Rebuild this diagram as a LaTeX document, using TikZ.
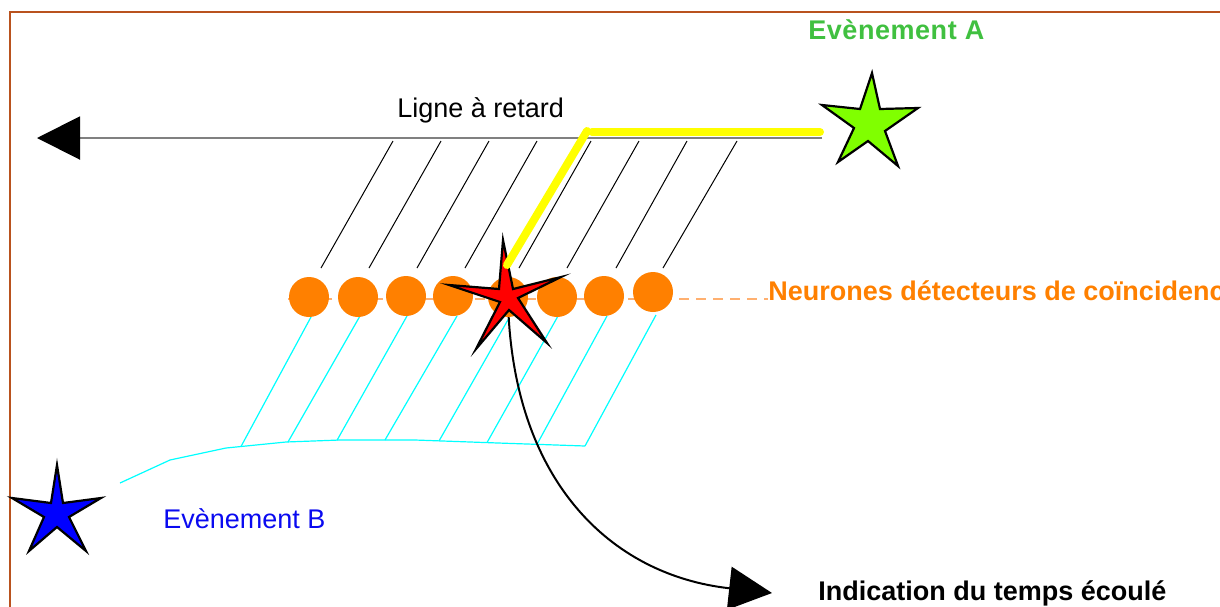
\documentclass[tikz,border=0pt]{standalone}
\usepackage{fontspec}
\setmainfont{Liberation Sans}
\usetikzlibrary{arrows.meta}
\definecolor{framebrown}{RGB}{185,82,30}
\definecolor{delaygray}{RGB}{128,128,128}
\definecolor{neuronorange}{RGB}{255,128,0}
\definecolor{dashorange}{RGB}{255,176,112}
\definecolor{textgreen}{RGB}{64,192,64}
\definecolor{stargreen}{RGB}{128,255,0}
\definecolor{textblue}{RGB}{10,10,240}
\definecolor{linecyan}{RGB}{0,255,255}
\definecolor{pathyellow}{RGB}{255,255,0}
\definecolor{starred}{RGB}{255,0,0}
\definecolor{starblue}{RGB}{0,0,255}
\begin{document}
\begin{tikzpicture}[x=0.5pt,y=-0.5pt,
  tap/.style={black,line width=0.5pt},
  cyanline/.style={linecyan,line width=0.6pt},
  neuron/.style={circle,fill=neuronorange,inner sep=0pt,minimum size=20pt},
  starshape/.style={draw=black,line width=1.1pt,line join=miter},
  lbl/.style={inner sep=0pt,anchor=base west,font=\fontsize{13.5}{16}\selectfont},
  lblb/.style={inner sep=0pt,anchor=base west,font=\fontsize{13.5}{16}\selectfont\bfseries},
  bigtip/.tip={Triangle[length=21.5pt,width=21.5pt,color=black,fill=black]}]
\useasboundingbox (0,0) rectangle (1220,606);
\clip (0,0) rectangle (1220,606);
% frame
\draw[framebrown,line width=1pt] (10,12) rectangle (1240,640);
% delay line
\coordinate (dlR) at (822,138);
\coordinate (dlL) at (37,138);
\draw[delaygray,line width=1pt,-bigtip] (dlR) -- (dlL);
\node[lbl] (ligne) at (397,117) {Ligne à retard};
% taps
\foreach \xt/\xb in {393/321,441/369,489/417,537/465,591/519,639/567,687/616,737/663}
  \draw[tap] (\xt,141) -- (\xb,268);
% cyan lines
\foreach \xt/\yt/\xb/\yb in {311/317/241/446.5,360/316/288/442,407/316/337/440.3,457/316/385/440,509/318/439/441,558/316/487/442.6,607/316/537/444.3,656/315/585/446}
  \draw[cyanline] (\xt,\yt) -- (\xb,\yb);
\draw[cyanline] (120,483) -- (170,460) -- (226,448) -- (286,442) -- (340,440) -- (415,440) -- (498,443) -- (585,446);
% output arrow
\coordinate (red) at (508,300);
\coordinate (out) at (772,593);
\draw[black,line width=1pt,-bigtip] (red) .. controls (512,480) and (610,575) .. (out);
% dashed line
\coordinate (dashL) at (288,299);
\coordinate (dashR) at (768,299);
\draw[dashorange,line width=0.8pt,dash pattern=on 5pt off 3.5pt] (dashL) -- (dashR);
% neurons
\foreach \x/\y [count=\i] in {309/297,358/297,406/296,453/296,508/297,557/297,604/296,653/292}
  \node[neuron] (n\i) at (\x,\y) {};
% red star
\filldraw[starshape,fill=starred] (503,240) -- (513,289) -- (561,277) -- (518,298) -- (547,343) -- (509,310) -- (476,349) -- (500,302) -- (449,285) -- (499,289) -- cycle;
% yellow path
\draw[pathyellow,line width=4pt,line cap=round] (820,132) -- (592,132);
\draw[pathyellow,line width=4pt,line cap=round] (587,131) -- (507,265);
% green star
\filldraw[starshape,fill=stargreen] (872,73) -- (880,109) -- (918,108) -- (885,131) -- (898,166) -- (868,141) -- (838,162) -- (854,128) -- (822,105) -- (860,109) -- cycle;
\node[lblb,text=textgreen] (evA) at (808,39) {\addfontfeatures{LetterSpace=2}Evènement A};
% blue star
\filldraw[starshape,fill=starblue] (57,465) -- (63,503) -- (101,498) -- (69,517) -- (86,551) -- (57,527) -- (29,551) -- (44,517) -- (12,498) -- (51,503) -- cycle;
\node[lbl,text=textblue] (evB) at (163,528) {Evènement B};
% labels
\node[lblb,text=neuronorange] (neur) at (768,300) {Neurones détecteurs de coïncidence};
\node[lblb,text=black] (ind) at (818,600) {Indication du temps écoulé};
\end{tikzpicture}
\end{document}
